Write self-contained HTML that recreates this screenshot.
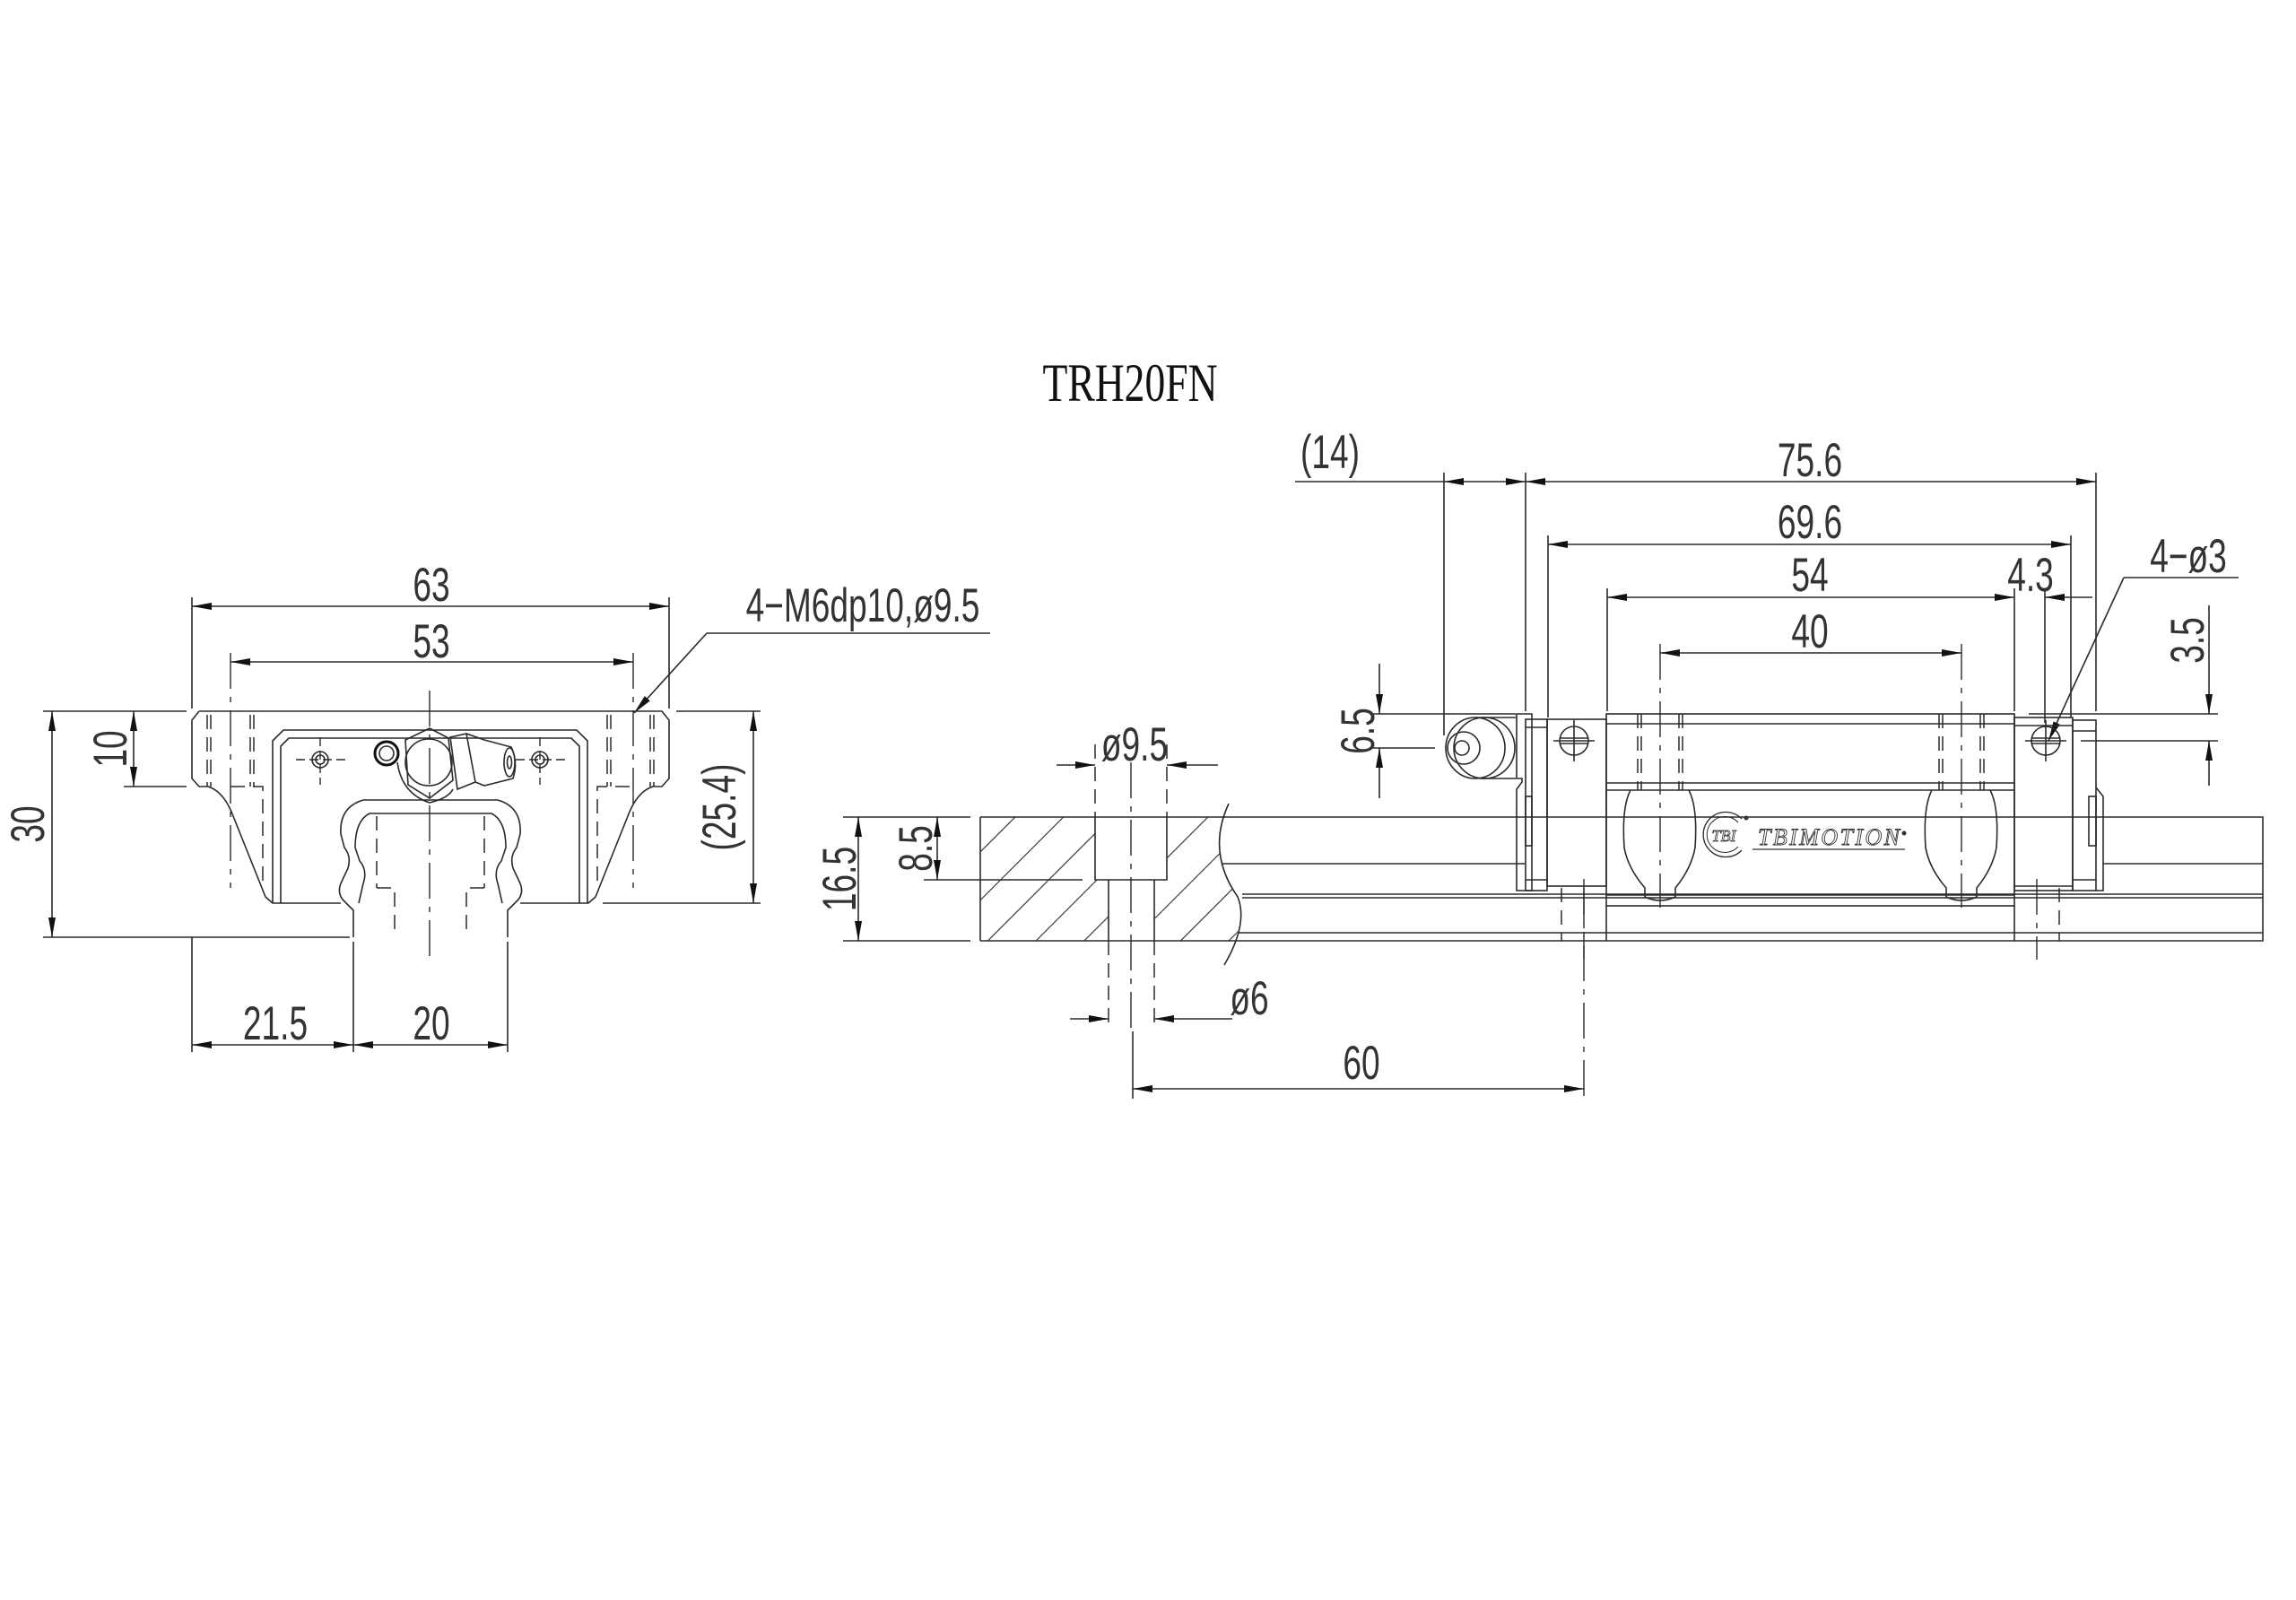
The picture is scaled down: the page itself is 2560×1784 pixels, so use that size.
<!DOCTYPE html>
<html><head><meta charset="utf-8"><style>
html,body{margin:0;padding:0;background:#fff;}
svg{display:block;}
.l{stroke:#2a2a2a;stroke-width:1.6;fill:none;}
.h{stroke:#2a2a2a;stroke-width:1.5;fill:none;stroke-dasharray:16 9;}
.c{stroke:#2a2a2a;stroke-width:1.4;fill:none;stroke-dasharray:40 9 6 9;}
.t{font-family:"Liberation Sans",sans-serif;font-size:53px;fill:#333;text-anchor:middle;}
</style></head><body>
<svg width="2560" height="1784" viewBox="0 0 2560 1784" xmlns="http://www.w3.org/2000/svg">
<defs>
<marker id="a" markerUnits="userSpaceOnUse" markerWidth="24" markerHeight="10" refX="22" refY="4" orient="auto-start-reverse"><path d="M0,0 L22,4 L0,8 z" fill="#111"/></marker>
<pattern id="hatch" patternUnits="userSpaceOnUse" width="38" height="38" patternTransform="rotate(45)"><line x1="0" y1="0" x2="0" y2="38" stroke="#2a2a2a" stroke-width="2.2"/></pattern>
</defs>

<text x="0" y="0" transform="translate(1260,447) scale(.76,1)" style="font-family:'Liberation Serif',serif;font-size:60px;fill:#111;text-anchor:middle">TRH20FN</text>

<!-- ===== LEFT VIEW ===== -->
<g>
<!-- dims 63/53 -->
<line class="l" x1="214" y1="666" x2="214" y2="790"/>
<line class="l" x1="746" y1="666" x2="746" y2="790"/>
<line class="l" x1="214" y1="676" x2="746" y2="676" marker-start="url(#a)" marker-end="url(#a)"/>
<text class="t" transform="translate(481,670) scale(.7,1)">63</text>
<line class="c" x1="257" y1="728" x2="257" y2="990"/>
<line class="c" x1="706" y1="728" x2="706" y2="990"/>
<line class="l" x1="257" y1="738" x2="706" y2="738" marker-start="url(#a)" marker-end="url(#a)"/>
<text class="t" transform="translate(481,733) scale(.7,1)">53</text>
<!-- leader -->
<line class="l" x1="1104" y1="706" x2="788" y2="706"/>
<line class="l" x1="788" y1="706" x2="707" y2="795" marker-end="url(#a)"/>
<text class="t" transform="translate(962,693) scale(.7,1)">4−M6dp10,ø9.5</text>
<!-- horizontal ext -->
<line class="l" x1="48" y1="793" x2="208" y2="793"/>
<line class="l" x1="754" y1="793" x2="848" y2="793"/>
<line class="l" x1="138" y1="877" x2="208" y2="877"/>
<line class="l" x1="48" y1="1045" x2="390" y2="1045"/>
<line class="l" x1="672" y1="1007" x2="848" y2="1007"/>
<!-- 30 / 10 / 25.4 -->
<line class="l" x1="58" y1="793" x2="58" y2="1045" marker-start="url(#a)" marker-end="url(#a)"/>
<text class="t" transform="translate(49,919) rotate(-90) scale(.7,1)">30</text>
<line class="l" x1="149" y1="793" x2="149" y2="877" marker-start="url(#a)" marker-end="url(#a)"/>
<text class="t" transform="translate(141,835) rotate(-90) scale(.7,1)">10</text>
<line class="l" x1="840" y1="793" x2="840" y2="1007" marker-start="url(#a)" marker-end="url(#a)"/>
<text class="t" transform="translate(820,900) rotate(-90) scale(.7,1)">(25.4)</text>
<!-- block outline -->
<path class="l" d="M222,793 L738,793 L746,803 L746,868 L738,877 L728,877 Q712,882 702,905 L668,990 L664,1000 L656,1007 L580,1007 M222,793 L214,803 L214,868 L222,877 L232,877 Q248,882 258,905 L292,990 L296,1000 L304,1007 L380,1007"/>
<!-- inner frame -->
<path class="l" d="M304,1007 L304,826 L316,814 L643,814 L655,826 L655,1007"/>
<path class="l" d="M313,1007 L313,832 L322,823 L637,823 L646,832 L646,1007"/>
<!-- rail -->
<path class="l" d="M394,1045 L394,1015 L382,1003 Q376,995 380,985 L388,968 Q392,955 384,945 L380,930 Q378,900 405,892 L555,892 Q582,900 580,930 L576,945 Q568,955 572,968 L580,985 Q584,995 578,1003 L566,1015 L566,1045"/>
<path class="l" d="M400,1007 L405,985 Q410,970 401,960 L396,945 Q396,915 412,907 L548,907 Q564,915 564,945 L559,960 Q550,970 555,985 L560,1007"/>
<line class="h" x1="420" y1="910" x2="420" y2="990"/>
<line class="h" x1="540" y1="910" x2="540" y2="990"/>
<path class="h" d="M420,990 L440,990 L440,1045 M540,990 L520,990 L520,1045"/>
<line class="c" x1="479" y1="770" x2="479" y2="1075"/>
<!-- hole dashed lines -->
<line class="h" x1="231" y1="797" x2="231" y2="877"/><line class="h" x1="235" y1="797" x2="235" y2="877"/>
<line class="h" x1="279" y1="797" x2="279" y2="877"/><line class="h" x1="283" y1="797" x2="283" y2="877"/>
<line class="h" x1="677" y1="797" x2="677" y2="877"/><line class="h" x1="681" y1="797" x2="681" y2="877"/>
<line class="h" x1="725" y1="797" x2="725" y2="877"/><line class="h" x1="729" y1="797" x2="729" y2="877"/>
<path class="h" d="M257,877 L293,877 L293,990 M702,877 L666,877 L666,990"/>
<!-- small holes -->
<circle class="l" cx="357" cy="847" r="9"/><circle class="l" cx="357" cy="847" r="5"/>
<path class="c" d="M330,847 L385,847 M357,822 L357,875" style="stroke-dasharray:10 5"/>
<circle class="l" cx="602" cy="847" r="9"/><circle class="l" cx="602" cy="847" r="5"/>
<path class="c" d="M575,847 L630,847 M602,822 L602,875" style="stroke-dasharray:10 5"/>
<!-- grease nipple -->
<circle cx="431" cy="840" r="13" fill="none" stroke="#111" stroke-width="3"/><circle class="l" cx="431" cy="840" r="8"/>
<path class="l" d="M479,812 L500,823 L505,870 L479,890 L455,875 L452,825 Z" fill="#fff"/>
<circle class="l" cx="478" cy="850" r="26" fill="#fff"/>
<path class="l" d="M443,850 Q448,885 479,895 Q500,890 505,880" />
<path class="l" d="M502,822 L520,818 L530,872 L510,880 Z" fill="#fff"/>
<path class="l" d="M520,818 L540,825 L570,833 Q578,850 572,868 L540,876 L530,872" fill="#fff"/>
<ellipse class="l" cx="568" cy="850" rx="6" ry="16"/><ellipse class="l" cx="568" cy="850" rx="2.5" ry="7"/>
<!-- bottom dims -->
<line class="l" x1="214" y1="1045" x2="214" y2="1173"/>
<line class="l" x1="394" y1="1050" x2="394" y2="1173"/>
<line class="l" x1="566" y1="1050" x2="566" y2="1173"/>
<line class="l" x1="214" y1="1165" x2="394" y2="1165" marker-start="url(#a)" marker-end="url(#a)"/>
<line class="l" x1="394" y1="1165" x2="566" y2="1165" marker-start="url(#a)" marker-end="url(#a)"/>
<text class="t" transform="translate(307,1159) scale(.7,1)">21.5</text>
<text class="t" transform="translate(481,1159) scale(.7,1)">20</text>
</g>

<!-- ===== RIGHT VIEW ===== -->
<g>
<!-- hatched rail section -->
<path d="M1093,911 L1370,911 Q1345,950 1380,1000 Q1392,1020 1375,1049 L1093,1049 Z M1221,911 L1221,981 L1236,981 L1236,1049 L1287,1049 L1287,981 L1301,981 L1301,911 Z" fill="url(#hatch)" fill-rule="evenodd"/>
<path class="l" d="M1093,911 L1093,1049 M1093,911 L2523,911 L2523,1049 L1093,1049"/>
<path class="l" d="M1370,896 Q1345,950 1380,1000 Q1392,1030 1365,1076"/>
<path class="l" d="M1221,911 L1221,981 L1301,981 L1301,911 M1236,981 L1236,1049 M1287,981 L1287,1049"/>
<line class="l" x1="1362" y1="963" x2="1700" y2="963"/>
<line class="l" x1="2345" y1="963" x2="2523" y2="963"/>
<line class="l" x1="1385" y1="997" x2="2523" y2="997"/>
<line class="l" x1="1385" y1="1001" x2="2523" y2="1001"/>
<line class="l" x1="1380" y1="1040" x2="2523" y2="1040"/>
<line class="c" x1="1261" y1="850" x2="1261" y2="1150"/>
<!-- left dims 16.5/8.5 -->
<line class="l" x1="940" y1="911" x2="1082" y2="911"/>
<line class="l" x1="940" y1="1049" x2="1082" y2="1049"/>
<line class="l" x1="1030" y1="981" x2="1207" y2="981"/>
<line class="l" x1="957" y1="911" x2="957" y2="1049" marker-start="url(#a)" marker-end="url(#a)"/>
<text class="t" transform="translate(954,980) rotate(-90) scale(.7,1)">16.5</text>
<line class="l" x1="1045" y1="911" x2="1045" y2="981" marker-start="url(#a)" marker-end="url(#a)"/>
<text class="t" transform="translate(1039,946) rotate(-90) scale(.7,1)">8.5</text>
<!-- ø9.5 -->
<line class="h" x1="1221" y1="830" x2="1221" y2="911"/>
<line class="h" x1="1301" y1="830" x2="1301" y2="911"/>
<line class="l" x1="1178" y1="853" x2="1221" y2="853" marker-end="url(#a)"/>
<line class="l" x1="1358" y1="853" x2="1301" y2="853" marker-end="url(#a)"/>
<text class="t" transform="translate(1265,848) scale(.7,1)">ø9.5</text>
<!-- ø6 -->
<line class="h" x1="1236" y1="1049" x2="1236" y2="1145"/>
<line class="h" x1="1287" y1="1049" x2="1287" y2="1145"/>
<line class="l" x1="1193" y1="1136" x2="1236" y2="1136" marker-end="url(#a)"/>
<line class="l" x1="1374" y1="1136" x2="1287" y2="1136" marker-end="url(#a)"/>
<text class="t" transform="translate(1393,1131) scale(.7,1)">ø6</text>
<!-- 60 -->
<line class="l" x1="1263" y1="1150" x2="1263" y2="1225"/>
<line class="c" x1="1766" y1="990" x2="1766" y2="1225"/>
<line class="l" x1="1263" y1="1214" x2="1766" y2="1214" marker-start="url(#a)" marker-end="url(#a)"/>
<text class="t" transform="translate(1518,1203) scale(.7,1)">60</text>

<!-- top dims -->
<line class="l" x1="1610" y1="527" x2="1610" y2="820"/>
<line class="l" x1="1701" y1="527" x2="1701" y2="793"/>
<line class="l" x1="2337" y1="527" x2="2337" y2="793"/>
<line class="l" x1="1444" y1="537" x2="1610" y2="537"/>
<line class="l" x1="1610" y1="537" x2="1701" y2="537" marker-start="url(#a)" marker-end="url(#a)"/>
<line class="l" x1="1701" y1="537" x2="2337" y2="537" marker-start="url(#a)" marker-end="url(#a)"/>
<text class="t" transform="translate(1483,522) scale(.7,1)">(14)</text>
<text class="t" transform="translate(2018,531) scale(.7,1)">75.6</text>
<line class="l" x1="1726" y1="597" x2="1726" y2="800"/>
<line class="l" x1="2309" y1="597" x2="2309" y2="800"/>
<line class="l" x1="1726" y1="607" x2="2309" y2="607" marker-start="url(#a)" marker-end="url(#a)"/>
<text class="t" transform="translate(2018,600) scale(.7,1)">69.6</text>
<line class="l" x1="1792" y1="656" x2="1792" y2="793"/>
<line class="l" x1="2246" y1="656" x2="2246" y2="793"/>
<line class="l" x1="2280" y1="656" x2="2280" y2="806"/>
<line class="l" x1="1792" y1="666" x2="2246" y2="666" marker-start="url(#a)" marker-end="url(#a)"/>
<line class="l" x1="2333" y1="666" x2="2280" y2="666" marker-end="url(#a)"/>
<text class="t" transform="translate(2018,659) scale(.7,1)">54</text>
<text class="t" transform="translate(2264,659) scale(.7,1)">4.3</text>
<line class="c" x1="1851" y1="718" x2="1851" y2="1012"/>
<line class="c" x1="2187" y1="718" x2="2187" y2="1012"/>
<line class="l" x1="1851" y1="728" x2="2187" y2="728" marker-start="url(#a)" marker-end="url(#a)"/>
<text class="t" transform="translate(2018,722) scale(.7,1)">40</text>
<!-- 4-ø3 -->
<line class="l" x1="2368" y1="644" x2="2496" y2="644"/>
<line class="l" x1="2368" y1="644" x2="2284" y2="826" marker-end="url(#a)"/>
<text class="t" transform="translate(2440,638) scale(.7,1)">4−ø3</text>
<!-- 6.5 -->
<line class="l" x1="1530" y1="796" x2="1690" y2="796"/>
<line class="l" x1="1530" y1="834" x2="1600" y2="834"/>
<line class="l" x1="1538" y1="740" x2="1538" y2="796" marker-end="url(#a)"/>
<line class="l" x1="1538" y1="890" x2="1538" y2="834" marker-end="url(#a)"/>
<text class="t" transform="translate(1532,815) rotate(-90) scale(.7,1)">6.5</text>
<!-- 3.5 -->
<line class="l" x1="2262" y1="796" x2="2473" y2="796"/>
<line class="l" x1="2320" y1="826" x2="2473" y2="826"/>
<line class="l" x1="2463" y1="675" x2="2463" y2="796" marker-end="url(#a)"/>
<line class="l" x1="2463" y1="876" x2="2463" y2="826" marker-end="url(#a)"/>
<text class="t" transform="translate(2457,714) rotate(-90) scale(.7,1)">3.5</text>

<!-- carriage -->
<path class="l" d="M1691,796 L1708,796 L1708,993 L1691,993 L1691,880 L1697,872 L1697,868 L1691,868 Z"/>
<rect class="l" x="1701" y="802" width="24" height="191"/>
<rect class="l" x="1701" y="888" width="7" height="55"/>
<rect class="l" x="1725" y="802" width="66" height="186"/>
<line class="l" x1="1701" y1="811" x2="1725" y2="811"/><line class="l" x1="1701" y1="981" x2="1725" y2="981"/>
<rect class="l" x="1791" y="796" width="455" height="214"/>
<line class="l" x1="1791" y1="807" x2="2246" y2="807"/>
<line class="l" x1="1791" y1="873" x2="2246" y2="873"/>
<line class="l" x1="1791" y1="881" x2="2246" y2="881"/>
<line class="l" x1="1791" y1="998" x2="2246" y2="998"/>
<rect class="l" x="2246" y="800" width="65" height="193"/>
<line class="l" x1="2246" y1="809" x2="2311" y2="809"/><line class="l" x1="2246" y1="988" x2="2311" y2="988"/>
<rect class="l" x="2311" y="803" width="26" height="190"/>
<line class="l" x1="2311" y1="815" x2="2337" y2="815"/><line class="l" x1="2311" y1="981" x2="2337" y2="981"/>
<path class="l" d="M2337,878 L2345,888 L2345,993 L2337,993"/>
<rect class="l" x="2329" y="888" width="8" height="55"/>
<!-- dashed in body -->
<line class="h" x1="1826" y1="796" x2="1826" y2="881"/><line class="h" x1="1830" y1="796" x2="1830" y2="881"/>
<line class="h" x1="1872" y1="796" x2="1872" y2="881"/><line class="h" x1="1876" y1="796" x2="1876" y2="881"/>
<line class="h" x1="2162" y1="796" x2="2162" y2="881"/><line class="h" x1="2166" y1="796" x2="2166" y2="881"/>
<line class="h" x1="2208" y1="796" x2="2208" y2="881"/><line class="h" x1="2212" y1="796" x2="2212" y2="881"/>
<line class="h" x1="1741" y1="990" x2="1741" y2="1049"/>
<line class="c" x1="1766" y1="980" x2="1766" y2="1070"/>
<line class="h" x1="2296" y1="990" x2="2296" y2="1049"/>
<line class="c" x1="2271" y1="980" x2="2271" y2="1070"/>
<line class="l" x1="1791" y1="1010" x2="1791" y2="1049"/><line class="l" x1="2246" y1="1010" x2="2246" y2="1049"/>
<!-- lobes -->
<path class="l" d="M1818,881 Q1808,900 1811,945 Q1815,968 1834,990 L1834,1000 Q1851,1008 1868,1000 L1868,990 Q1886,968 1890,945 Q1893,900 1883,881"/>
<path class="l" d="M2154,881 Q2144,900 2147,945 Q2151,968 2170,990 L2170,1000 Q2187,1008 2204,1000 L2204,990 Q2222,968 2226,945 Q2229,900 2219,881"/>
<!-- screws -->
<circle class="l" cx="1755" cy="826" r="16"/>
<path class="l" d="M1740,823 L1770,823 M1740,829 L1770,829 M1732,826 L1778,826 M1755,803 L1755,849"/>
<circle class="l" cx="2281" cy="826" r="16"/>
<path class="l" d="M2266,823 L2296,823 M2266,829 L2296,829 M2258,826 L2304,826 M2281,803 L2281,849"/>
<!-- nipple -->
<path class="l" d="M1645,800 L1690,800 M1650,868 L1690,868"/>
<ellipse class="l" cx="1655" cy="834" rx="34" ry="34"/>
<ellipse class="l" cx="1645" cy="834" rx="33" ry="34" fill="#fff"/>
<circle class="l" cx="1632" cy="834" r="18" fill="#fff"/>
<circle class="l" cx="1630" cy="834" r="8"/>
<!-- logo -->
<path class="l" d="M1942,913 A25,25 0 1 0 1942,948" style="stroke-width:1.3"/>
<path class="l" d="M1938,917 A20,20 0 1 0 1938,944" style="stroke-width:1"/>
<text x="1922" y="938" style="font-family:'Liberation Serif',serif;font-style:italic;font-size:18px;fill:none;stroke:#333;stroke-width:.8;text-anchor:middle">TBI</text>
<circle cx="1947" cy="912" r="2.5" fill="#333"/>
<text x="1960" y="942" textLength="158" style="font-family:'Liberation Serif',serif;font-style:italic;font-size:26px;fill:none;stroke:#333;stroke-width:.9">TBIMOTION</text>
<circle cx="2123" cy="929" r="2.5" fill="#333"/>
<line x1="1954" y1="947" x2="2124" y2="947" stroke="#333" stroke-width="1.2"/>
</g>
</svg>
</body></html>
